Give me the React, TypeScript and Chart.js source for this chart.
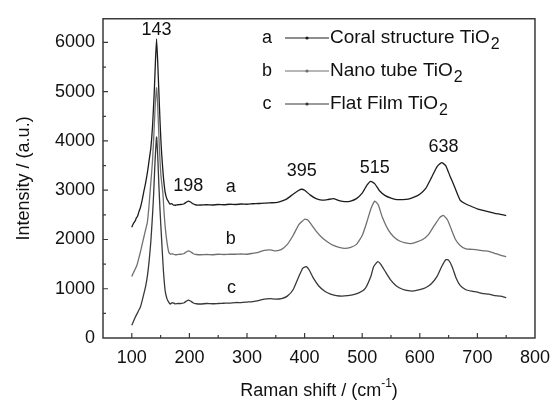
import React, { useEffect, useRef } from "react";
import { Chart, registerables } from "chart.js";

Chart.register(...registerables);

// Raman shift (cm^-1) and intensity (a.u.) for each sample
const shiftA = [100,103,106,108,110,112,115,118,121,124,127,130,133,136,139,141,143,145,147,149,151,153,155,158,161,164,166,169,172,176,180,185,190,195,198,202,207,212,220,230,240,250,260,270,280,290,300,310,320,330,340,350,360,370,380,390,395,400,410,420,430,440,450,460,470,480,490,500,508,515,522,530,540,550,560,570,580,590,600,610,620,630,638,645,652,660,670,680,690,700,710,720,730,740,750];
const intensityA = [2250,2330,2380,2440,2470,2550,2650,2800,2980,3150,3350,3600,3850,4300,5000,5600,6070,5600,5000,4400,3900,3550,3250,2950,2820,2760,2720,2730,2700,2695,2705,2710,2720,2760,2780,2760,2720,2700,2700,2705,2700,2710,2705,2715,2710,2720,2715,2725,2730,2740,2745,2750,2780,2830,2920,3000,3020,3000,2900,2830,2800,2810,2830,2790,2770,2780,2830,2940,3100,3180,3130,2990,2890,2840,2810,2810,2820,2860,2920,3030,3250,3480,3560,3500,3300,3080,2800,2720,2670,2620,2590,2560,2530,2510,2485];

const shiftB = [100,103,106,108,110,112,115,118,121,124,127,130,133,136,139,141,143,145,147,149,151,154,156,158,161,164,167,170,175,180,185,190,195,198,202,207,212,220,230,240,250,260,270,280,290,300,310,320,330,340,350,360,370,380,390,400,405,410,420,430,440,450,460,470,480,490,500,508,515,522,528,535,545,555,565,575,585,595,605,615,625,635,641,648,655,662,670,680,690,700,710,720,730,740,750];
const intensityB = [1250,1330,1400,1450,1520,1610,1750,1900,2050,2200,2350,2700,3150,3600,4300,4800,5080,4700,4100,3600,3250,2940,2550,2250,1950,1750,1700,1710,1690,1695,1700,1710,1750,1770,1750,1710,1695,1690,1695,1690,1700,1695,1700,1700,1705,1700,1720,1740,1780,1790,1770,1800,1900,2080,2300,2410,2400,2330,2170,2040,1950,1880,1840,1820,1840,1900,2080,2350,2620,2780,2700,2450,2200,2050,1970,1930,1915,1950,2000,2100,2280,2450,2490,2400,2200,2000,1880,1810,1800,1790,1770,1760,1720,1680,1650];

const shiftC = [100,103,106,108,110,112,115,118,121,124,127,130,133,136,138,140,143,145,147,149,152,155,158,161,164,167,170,175,180,185,190,195,198,202,207,212,220,230,240,250,260,270,280,290,300,310,320,330,340,350,360,370,380,390,397,403,408,415,425,435,445,455,465,475,485,495,505,515,520,527,532,540,550,560,570,580,590,600,610,620,630,638,645,650,656,663,670,680,690,700,710,720,730,740,750];
const intensityC = [258,340,420,470,510,560,630,760,900,1050,1250,1550,1950,2500,2940,3500,4080,3700,3100,2600,1950,1350,950,800,730,690,720,695,700,700,710,750,770,750,710,695,690,700,695,700,705,710,720,720,730,740,760,790,800,790,800,850,980,1250,1420,1450,1380,1220,1050,950,890,860,850,860,880,920,1000,1250,1450,1550,1500,1350,1170,1050,990,960,955,980,1020,1100,1250,1450,1590,1580,1450,1220,1070,980,950,930,900,890,860,850,820];

const seriesLetters = ["a", "b", "c"];
const seriesNames = ["Coral structure TiO", "Nano tube TiO", "Flat Film TiO"];
const seriesColors = ["#1c1c1c", "#707070", "#383838"];

const xTicks = [100, 200, 300, 400, 500, 600, 700, 800];
const yTicks = [0, 1000, 2000, 3000, 4000, 5000, 6000];

// peak labels: [text, shift, intensity]
const peakLabels: [string, number, number][] = [
  ["143", 143, 6250],
  ["198", 198, 3080],
  ["395", 395, 3380],
  ["515", 522, 3460],
  ["638", 641, 3870],
];
// curve letters: [letter, shift, intensity]
const curveLabels: [string, number, number][] = [
  ["a", 272, 3060],
  ["b", 272, 2000],
  ["c", 273, 1010],
];

const FONT = "'Liberation Sans', Arial, sans-serif";

const toPoints = (xs: number[], ys: number[]) => xs.map((x, i) => ({ x, y: ys[i] }));

const decorPlugin = {
  id: "decor",
  afterDraw(chart: any) {
    const ctx = chart.ctx;
    const area = chart.chartArea;
    const xs = chart.scales.x;
    const ys = chart.scales.y;
    const L = area.left, R = area.right, T = area.top, B = area.bottom;
    ctx.save();
    ctx.setLineDash([]);
    ctx.globalAlpha = 1;
    // frame
    ctx.strokeStyle = "#3a3a3a";
    ctx.lineWidth = 1.5;
    ctx.beginPath();
    ctx.moveTo(L, T);
    ctx.lineTo(R, T);
    ctx.lineTo(R, B);
    ctx.lineTo(L, B);
    ctx.closePath();
    ctx.stroke();
    // inward ticks
    ctx.lineWidth = 1.2;
    ctx.beginPath();
    for (let v = 100; v <= 750; v += 50) {
      const px = xs.getPixelForValue(v);
      const len = v % 100 === 0 ? 5 : 3;
      ctx.moveTo(px, B);
      ctx.lineTo(px, B - len);
    }
    for (let v = 500; v <= 6000; v += 500) {
      const py = ys.getPixelForValue(v);
      const len = v % 1000 === 0 ? 5 : 3;
      ctx.moveTo(L, py);
      ctx.lineTo(L + len, py);
    }
    ctx.stroke();

    // peak labels and curve letters
    ctx.fillStyle = "#111";
    ctx.font = `18px ${FONT}`;
    ctx.textAlign = "center";
    ctx.textBaseline = "middle";
    for (const [t, x, y] of peakLabels) ctx.fillText(t, xs.getPixelForValue(x), ys.getPixelForValue(y));
    for (const [t, x, y] of curveLabels) ctx.fillText(t, xs.getPixelForValue(x), ys.getPixelForValue(y));

    // legend
    const lx = 267;
    const rowsY = [38, 71, 104];
    seriesLetters.forEach((letter, i) => {
      const y = rowsY[i];
      ctx.fillStyle = "#111";
      ctx.font = `18px ${FONT}`;
      ctx.textAlign = "center";
      ctx.textBaseline = "middle";
      ctx.fillText(letter, lx, y);
      ctx.strokeStyle = seriesColors[i];
      ctx.lineWidth = 1.2;
      ctx.beginPath();
      ctx.moveTo(285, y);
      ctx.lineTo(329, y);
      ctx.stroke();
      ctx.fillStyle = seriesColors[i];
      ctx.beginPath();
      ctx.arc(307, y, 1.6, 0, Math.PI * 2);
      ctx.fill();
      ctx.fillStyle = "#111";
      ctx.font = `19px ${FONT}`;
      ctx.textAlign = "left";
      ctx.fillText(seriesNames[i], 330, y);
      const w = ctx.measureText(seriesNames[i]).width;
      ctx.font = `16px ${FONT}`;
      ctx.fillText("2", 330 + w + 1, y + 7);
    });

    // axis titles
    ctx.fillStyle = "#111";
    ctx.font = `18px ${FONT}`;
    ctx.textBaseline = "middle";
    const tx = (L + R) / 2;
    const main = "Raman shift / (cm";
    const sup = "-1";
    const close = ")";
    const wMain = ctx.measureText(main).width;
    const wClose = ctx.measureText(close).width;
    ctx.font = `12px ${FONT}`;
    const wSup = ctx.measureText(sup).width;
    const total = wMain + wSup + wClose;
    let cx = tx - total / 2;
    ctx.textAlign = "left";
    ctx.font = `18px ${FONT}`;
    ctx.fillText(main, cx, 391);
    cx += wMain;
    ctx.font = `12px ${FONT}`;
    ctx.fillText(sup, cx, 384);
    cx += wSup;
    ctx.font = `18px ${FONT}`;
    ctx.fillText(close, cx, 391);

    ctx.translate(24, (T + B) / 2);
    ctx.rotate(-Math.PI / 2);
    ctx.textAlign = "center";
    ctx.fillText("Intensity / (a.u.)", 0, 0);
    ctx.restore();
  },
};

export default function App() {
  const ref = useRef<HTMLCanvasElement | null>(null);
  useEffect(() => {
    document.body.style.margin = "0";
    if (!ref.current) return;
    const chart = new Chart(ref.current, {
      type: "line",
      data: {
        datasets: [
          { label: "a", data: toPoints(shiftA, intensityA) },
          { label: "b", data: toPoints(shiftB, intensityB) },
          { label: "c", data: toPoints(shiftC, intensityC) },
        ].map((d, i) => ({
          ...d,
          borderColor: seriesColors[i],
          borderWidth: 1.3,
          pointRadius: 0,
          tension: 0.15,
          fill: false,
        })),
      },
      options: {
        animation: false,
        responsive: true,
        maintainAspectRatio: false,
        layout: { padding: { left: 0, top: 12, right: 16, bottom: 0 } },
        plugins: { legend: { display: false }, tooltip: { enabled: false } },
        scales: {
          x: {
            type: "linear",
            min: 50,
            max: 800,
            afterBuildTicks: (s: any) => {
              s.ticks = xTicks.map((v) => ({ value: v }));
            },
            afterFit: (s: any) => {
              s.height = 63;
            },
            grid: { display: false, drawTicks: false },
            border: { display: false },
            ticks: {
              padding: 9,
              color: "#111",
              font: { family: FONT, size: 18 },
              maxRotation: 0,
              callback: (v: any) => String(v),
            },
          },
          y: {
            type: "linear",
            min: 0,
            max: 6480,
            afterBuildTicks: (s: any) => {
              s.ticks = yTicks.map((v) => ({ value: v }));
            },
            afterFit: (s: any) => {
              s.width = 103;
            },
            grid: { display: false, drawTicks: false },
            border: { display: false },
            ticks: {
              padding: 8,
              color: "#111",
              font: { family: FONT, size: 18 },
              callback: (v: any) => String(v),
            },
          },
        },
      },
      plugins: [decorPlugin],
    } as any);
    return () => chart.destroy();
  }, []);
  return (
    <div style={{ width: 559, height: 401, position: "relative", background: "#fff" }}>
      <canvas ref={ref} />
    </div>
  );
}
